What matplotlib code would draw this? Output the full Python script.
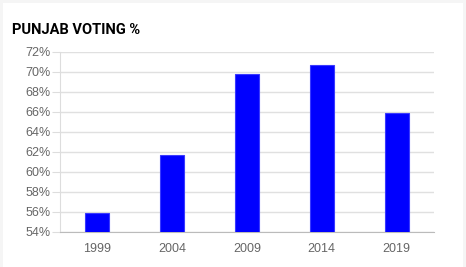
import matplotlib
matplotlib.use("Agg")
import matplotlib.pyplot as plt
from matplotlib.ticker import FuncFormatter

years = ["1999", "2004", "2009", "2014", "2019"]
voting = [55.9, 61.7, 69.8, 70.7, 65.9]
yticks = [54, 56, 58, 60, 62, 64, 66, 68, 70, 72]

plt.rcParams["font.family"] = ["Liberation Sans", "DejaVu Sans"]

fig = plt.figure(figsize=(4.66, 2.67), dpi=100)
fig.patch.set_facecolor("#f5f5f5")
bg = fig.add_axes([3/466, 0, 1 - 6/466, 1 - 3/267], zorder=-10)
bg.set_facecolor("white")
bg.set_xticks([]); bg.set_yticks([])
for s in bg.spines.values():
    s.set_visible(False)

ax = fig.add_axes([60/466, 1 - 232/267, (434 - 60)/466, (232 - 52)/267])
ax.set_facecolor("white")
x = range(len(years))
ax.bar(x, voting, width=0.32, bottom=0, color="#0000ff", edgecolor="#3a3aff", linewidth=0.8, zorder=3)
ax.set_xlim(-0.5, len(years) - 0.5)
ax.set_ylim(54, 72)
ax.set_yticks(yticks)
ax.yaxis.set_major_formatter(FuncFormatter(lambda v, p: f"{int(v)}%"))
ax.set_xticks(list(x))
ax.set_xticklabels(years)
ax.grid(axis="y", color="#e0e0e0", linewidth=1, zorder=0)
for s in ["top", "right"]:
    ax.spines[s].set_visible(False)
ax.spines["left"].set_color("#dddddd")
ax.spines["bottom"].set_color("#bbbbbb")
ax.tick_params(axis="y", length=6, color="#dddddd", labelsize=9, labelcolor="#666666", pad=1)
ax.tick_params(axis="x", length=0, labelsize=9, labelcolor="#666666", pad=8)

fig.text(12/466, 1 - 30/267, "PUNJAB VOTING %", fontsize=10.5, fontweight="bold",
         fontfamily="Roboto", color="black", va="center", ha="left", fontstretch="condensed")

fig.savefig("out.png", dpi=100, facecolor=fig.get_facecolor())
